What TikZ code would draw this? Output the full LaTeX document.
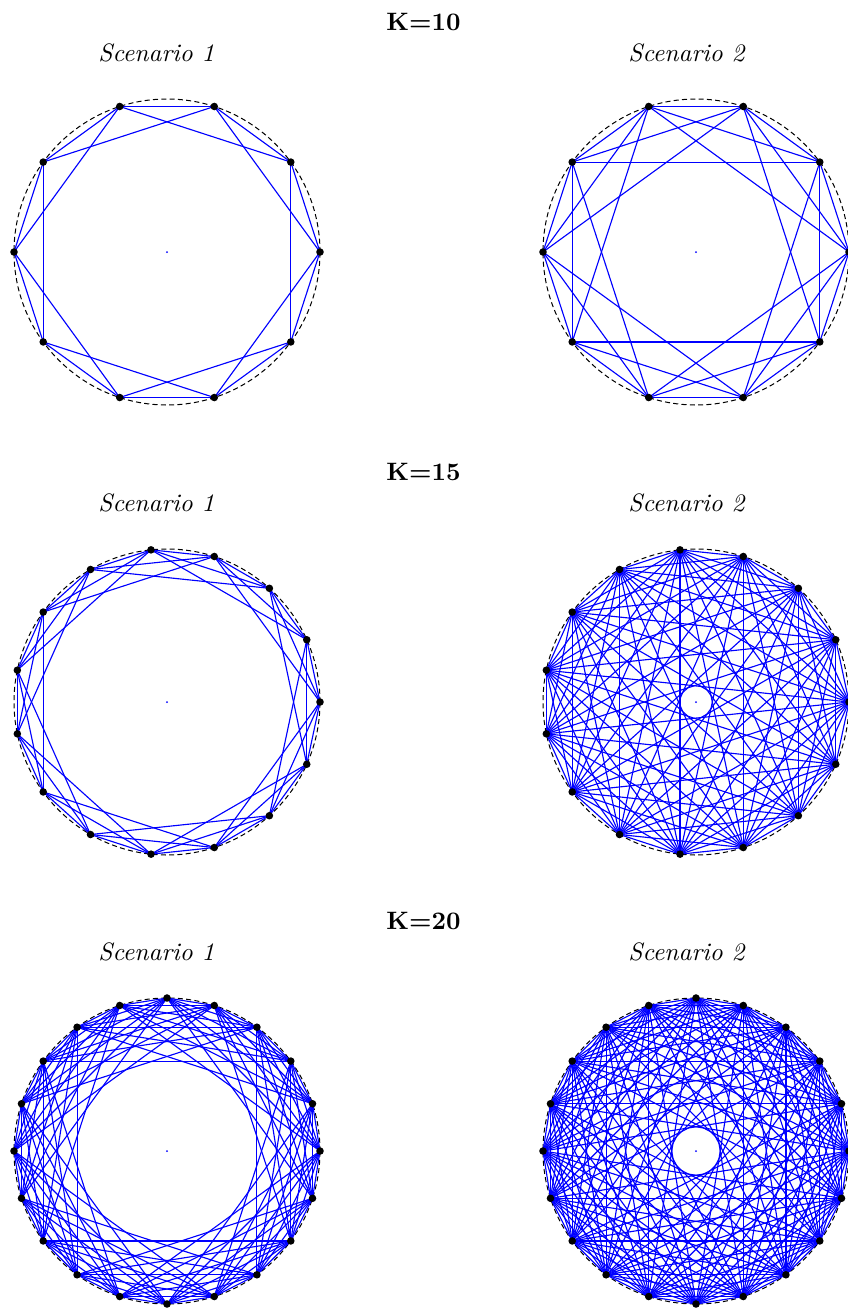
\documentclass[tikz,border=0pt]{standalone}
\usepackage{tikz}
\usetikzlibrary{calc, backgrounds}

\begin{document}
\begin{tikzpicture}[
  x=0.397pt,
  y=0.397pt,
  agent/.style={
    circle,
    fill=black,
    inner sep=0pt,
    minimum size=3pt
  },
  hub/.style={
    circle,
    fill=blue,
    inner sep=0pt,
    minimum size=0.8pt
  },
  link/.style={
    draw=blue,
    line width=0.45pt
  },
  ringline/.style={
    draw=black,
    dash pattern=on 2pt off 1.3pt,
    line width=0.4pt
  },
  rowtitle/.style={font=\bfseries, anchor=base},
  scenlabel/.style={font=\itshape, anchor=base}
]
\useasboundingbox (0,0) rectangle (847,-1309);

% row titles and scenario labels
\node[rowtitle] (k10) at (423.5,-30) {K=10};
\node[scenlabel] (k10a) at (156.5,-61.5) {Scenario 1};
\node[scenlabel] (k10b) at (686.5,-61.5) {Scenario 2};

\node[rowtitle] (k15) at (423.5,-480) {K=15};
\node[scenlabel] (k15a) at (156.5,-511.5) {Scenario 1};
\node[scenlabel] (k15b) at (686.5,-511.5) {Scenario 2};

\node[rowtitle] (k20) at (423.5,-929) {K=20};
\node[scenlabel] (k20a) at (156.5,-960.5) {Scenario 1};
\node[scenlabel] (k20b) at (686.5,-960.5) {Scenario 2};

% graphs: id / centre / number of agents / largest ring step
\foreach \g/\cx/\cy/\K/\s in {1/167/-252/10/2, 2/696/-252/10/3,
                              3/167/-702/15/3, 4/696/-702/15/7,
                              5/167/-1151/20/6, 6/696/-1151/20/9}{
  \coordinate (c\g) at (\cx,\cy);
  \foreach \i in {1,...,\K}{
    \node[agent] (g\g-\i) at ($(c\g)+({(\i-1)*360/\K}:153)$) {};
  }
  \node[hub] (h\g) at (c\g) {};
  \begin{scope}[on background layer]
    \draw[ringline] (c\g) circle[radius=153];
    \foreach \i in {1,...,\K}{
      \foreach \d in {1,...,\s}{
        \pgfmathtruncatemacro{\j}{mod(\i-1+\d,\K)+1}
        \draw[link] (g\g-\i.center) -- (g\g-\j.center);
      }
    }
  \end{scope}
}

\end{tikzpicture}
\end{document}
